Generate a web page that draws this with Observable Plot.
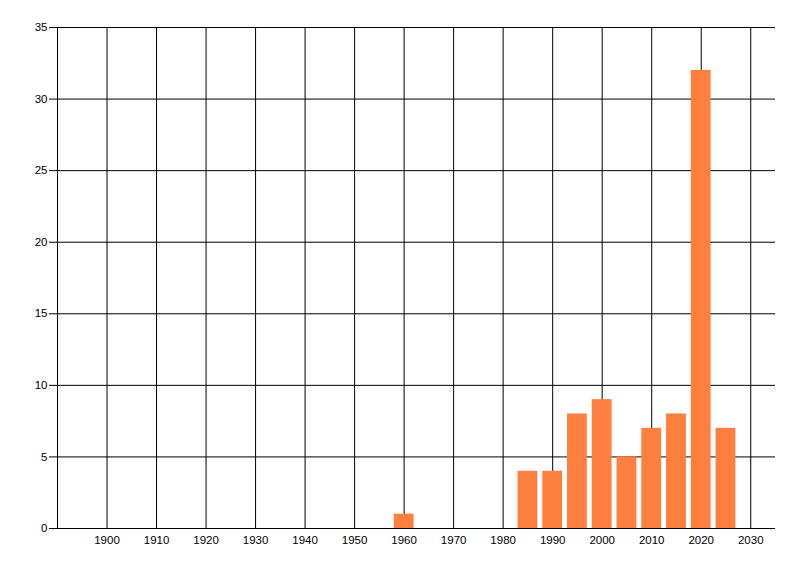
<!DOCTYPE html>
<html>
<head>
<meta charset="utf-8">
<script src="https://cdn.jsdelivr.net/npm/d3@7"></script>
<script src="https://cdn.jsdelivr.net/npm/@observablehq/plot@0.6"></script>
<style>
  html, body { margin: 0; padding: 0; background: #fff; }
  #chart svg { display: block; }
</style>
</head>
<body>
<div id="chart"></div>
<script>
const years = [1960, 1985, 1990, 1995, 2000, 2005, 2010, 2015, 2020, 2025];
const counts = [1, 4, 4, 8, 9, 5, 7, 8, 32, 7];
const xTicks = [1900, 1910, 1920, 1930, 1940, 1950, 1960, 1970, 1980, 1990, 2000, 2010, 2020, 2030];
const yTicks = [0, 5, 10, 15, 20, 25, 30, 35];
const xDomain = [1890, 2035];
const yDomain = [0, 35];
const barHalfWidth = 2;

const data = years.map((y, i) => ({year: y, count: counts[i]}));

const chart = Plot.plot({
  width: 800,
  height: 576,
  marginLeft: 57,
  marginRight: 25,
  marginTop: 27,
  marginBottom: 48,
  style: {fontFamily: "'Liberation Sans', Arial, sans-serif", color: "#000", background: "#fff"},
  x: {domain: xDomain, label: null},
  y: {domain: yDomain, label: null},
  marks: [
    Plot.gridX(xTicks, {stroke: "#000", strokeOpacity: 1, strokeWidth: 1}),
    Plot.gridY(yTicks, {stroke: "#000", strokeOpacity: 1, strokeWidth: 1}),
    Plot.ruleX([xDomain[0]], {stroke: "#000", strokeWidth: 1}),
    Plot.rectY(data, {x1: d => d.year - barHalfWidth, x2: d => d.year + barHalfWidth, y: "count", fill: "#FF7F40"}),
    Plot.axisX(xTicks, {tickSize: 0, tickPadding: 7, fontSize: 11.5, tickFormat: d => String(d), fill: "#000", label: null}),
    Plot.axisY(yTicks, {tickSize: 8, tickPadding: 2, fontSize: 11.5, tickFormat: d => String(d), stroke: "#000", fill: "#000", label: null})
  ]
});
document.getElementById("chart").appendChild(chart);
</script>
</body>
</html>
